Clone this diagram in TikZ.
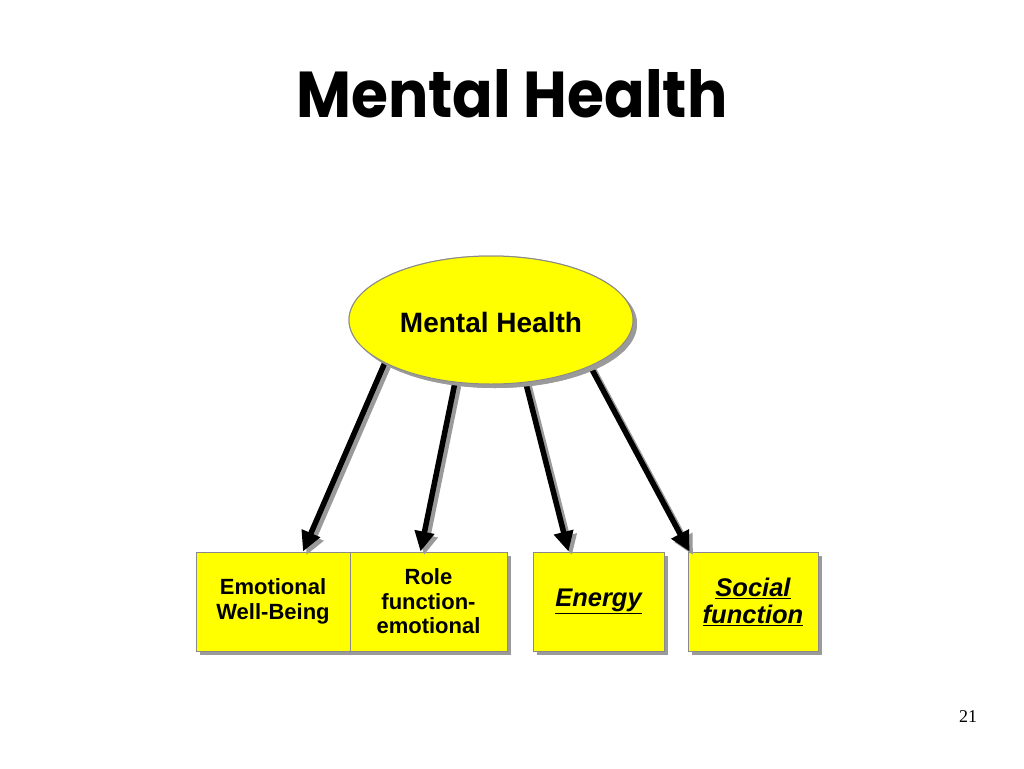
\documentclass[tikz,border=0pt]{standalone}
\usepackage{fontspec}
\usepackage{graphicx}
\setmainfont{Liberation Sans}
\newfontfamily\titlefont{Poppins}
\newfontfamily\numfont{Liberation Serif}
\usetikzlibrary{shapes.geometric,arrows.meta,shadows}
\definecolor{boxyellow}{HTML}{FFFF00}
\definecolor{edgegray}{HTML}{8A8A8A}
\definecolor{shadowgray}{HTML}{9A9A9A}
\newcommand{\ulword}[1]{\underline{#1}}
\tikzset{
  yshadow/.style={drop shadow={shadow xshift=4pt,shadow yshift=-4pt,fill=shadowgray,opacity=1}},
  oval/.style={ellipse,draw=edgegray,line width=1pt,fill=boxyellow,yshadow,
    minimum width=284pt,minimum height=128pt,inner sep=0pt,
    font=\fontsize{28}{30}\selectfont\bfseries},
  ybox/.style={rectangle,draw=edgegray,line width=1pt,fill=boxyellow,yshadow,
    minimum height=99pt,inner sep=0pt,align=center,
    font=\fontsize{22}{24.5}\selectfont\bfseries},
  ibox/.style={ybox,font=\fontsize{25.5}{27}\selectfont\bfseries\itshape},
  bigarrow/.style={line width=5.5pt,-{Triangle[length=20pt,width=19pt]},black},
  arrowshade/.style={line width=5.5pt,-{Triangle[length=20pt,width=19pt]},shadowgray,
    transform canvas={xshift=3.5pt,yshift=-3.5pt}}
}
\begin{document}
\begin{tikzpicture}[x=1pt,y=-1pt]
\useasboundingbox (0,0) rectangle (1024,768);
\node[font=\titlefont\bfseries] (title) at (512,94) {\resizebox{431pt}{48pt}{Mental Health}};
% boxes
\node[ybox,minimum width=154pt] (b1) at (273,601.5) {Emotional\\Well-Being};
\node[ybox,minimum width=157pt] (b2) at (428.5,601.5) {Role\\function-\\emotional};
\node[ibox,minimum width=131pt] (b3) at (598.5,601.5) {\ulword{Energy}};
\node[ibox,minimum width=130pt] (b4) at (753,601.5) {\ulword{Social}\\\ulword{function}};
% ellipse
\node[oval] (mh) at (491,320) {};
% arrows shadows
\draw[arrowshade] (mh.202) -- ([xshift=30pt]b1.north);
\draw[arrowshade] (mh.240) -- ([xshift=-8pt]b2.north);
\draw[arrowshade] (mh.299) -- ([xshift=-30pt]b3.north);
\draw[arrowshade] (mh.335) -- ([xshift=2pt]b4.north west);
\draw[bigarrow] (mh.202) -- ([xshift=30pt]b1.north);
\draw[bigarrow] (mh.240) -- ([xshift=-8pt]b2.north);
\draw[bigarrow] (mh.299) -- ([xshift=-30pt]b3.north);
\draw[bigarrow] (mh.335) -- ([xshift=2pt]b4.north west);
% redraw ellipse on top
\node[oval,text height=24pt,text depth=0pt] (mhtop) at (491,320) {Mental Health};
\node[font=\numfont\fontsize{18}{20}\selectfont] (pg) at (968,717) {21};
\end{tikzpicture}
\end{document}
